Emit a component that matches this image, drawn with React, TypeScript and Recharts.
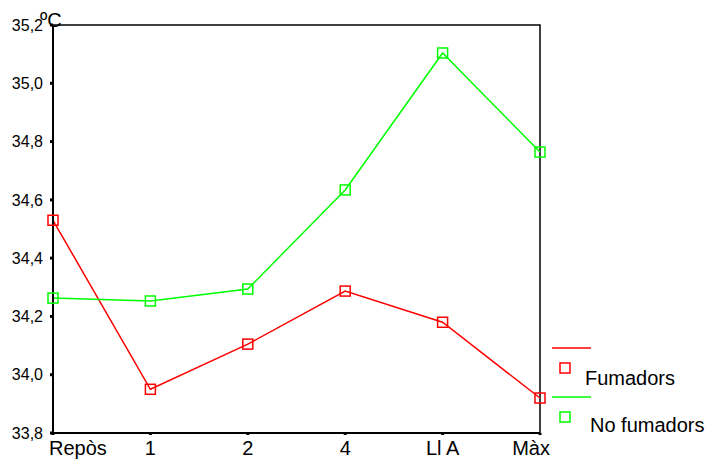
import { LineChart, Line, XAxis, YAxis, ReferenceArea } from 'recharts';

const categories = ['Repòs', '1', '2', '4', 'Ll A', 'Màx'];
const fumadors = [34.53, 33.95, 34.105, 34.287, 34.18, 33.92];
const noFumadors = [34.263, 34.253, 34.294, 34.634, 35.104, 34.764];
const yTicks = [33.8, 34.0, 34.2, 34.4, 34.6, 34.8, 35.0, 35.2];

const FONT = 'Arial, "Liberation Sans", sans-serif';
const RED = '#ff0000';
const GREEN = '#00ff00';

const data = categories.map((c, i) => ({
  cat: c,
  fumadors: fumadors[i],
  noFumadors: noFumadors[i],
}));

const squareDot = (color: string) => (props: any) => {
  const { cx, cy, index } = props;
  if (cx == null || cy == null) return <g key={index} />;
  return (
    <rect
      key={index}
      x={cx - 5}
      y={cy - 5}
      width={10}
      height={10}
      fill="none"
      stroke={color}
      strokeWidth={1.5}
    />
  );
};

const XTick = (props: any) => {
  const { x, y, payload, index } = props;
  const last = categories.length - 1;
  let anchor: 'start' | 'middle' | 'end' = 'middle';
  let dx = 0;
  if (index === 0) {
    anchor = 'start';
    dx = -4;
  } else if (index === last) {
    anchor = 'end';
    dx = 10;
  }
  return (
    <text
      x={x + dx}
      y={y}
      dy="0.71em"
      textAnchor={anchor}
      fill="#000"
      fontSize={20}
      fontFamily={FONT}
    >
      {payload.value}
    </text>
  );
};

// legend drawn by hand, placed to the right of the plot
const LegendBox = () => (
  <svg
    width={170}
    height={110}
    style={{ position: 'absolute', left: 545, top: 330 }}
  >
    <line x1={7} y1={18} x2={46} y2={18} stroke={RED} strokeWidth={1.5} />
    <rect x={15} y={33} width={10} height={10} fill="none" stroke={RED} strokeWidth={1.5} />
    <text x={40} y={55} fontSize={20} fontFamily={FONT} fill="#000">
      Fumadors
    </text>
    <line x1={7} y1={67} x2={46} y2={67} stroke={GREEN} strokeWidth={1.5} />
    <rect x={15} y={82} width={10} height={10} fill="none" stroke={GREEN} strokeWidth={1.5} />
    <text x={45} y={102} fontSize={20} fontFamily={FONT} fill="#000">
      No fumadors
    </text>
  </svg>
);

export default function App() {
  return (
    <div style={{ position: 'absolute', left: 0, top: 0, width: 715, height: 463, background: '#fff' }}>
      <LineChart
        width={715}
        height={463}
        data={data}
        margin={{ top: 25, right: 175, left: 0, bottom: 0 }}
      >
        <ReferenceArea
          x1="Repòs"
          x2="Màx"
          y1={33.8}
          y2={35.2}
          fill="none"
          stroke="#000"
          strokeWidth={1.5}
          fillOpacity={0}
        />
        <XAxis
          dataKey="cat"
          height={30}
          interval={0}
          axisLine={{ stroke: '#000', strokeWidth: 2 }}
          tickLine={{ stroke: '#000', strokeWidth: 3 }}
          tickSize={2}
          tickMargin={6}
          tick={<XTick />}
        />
        <YAxis
          width={53}
          domain={[33.8, 35.2]}
          ticks={yTicks}
          interval={0}
          allowDataOverflow
          axisLine={{ stroke: '#000', strokeWidth: 2 }}
          tickLine={{ stroke: '#000', strokeWidth: 3 }}
          tickSize={3}
          tickMargin={7}
          tickFormatter={(v: number) => v.toFixed(1).replace('.', ',')}
          tick={{ fill: '#000', fontSize: 16, fontFamily: FONT }}
        />
        <Line
          dataKey="fumadors"
          stroke={RED}
          strokeWidth={1.5}
          dot={squareDot(RED)}
          activeDot={false}
          isAnimationActive={false}
        />
        <Line
          dataKey="noFumadors"
          stroke={GREEN}
          strokeWidth={1.5}
          dot={squareDot(GREEN)}
          activeDot={false}
          isAnimationActive={false}
        />
      </LineChart>
      <LegendBox />
      <div
        style={{
          position: 'absolute',
          left: 40,
          top: 10,
          fontFamily: FONT,
          fontSize: 20,
          lineHeight: '20px',
          color: '#000',
        }}
      >
        ºC
      </div>
    </div>
  );
}
